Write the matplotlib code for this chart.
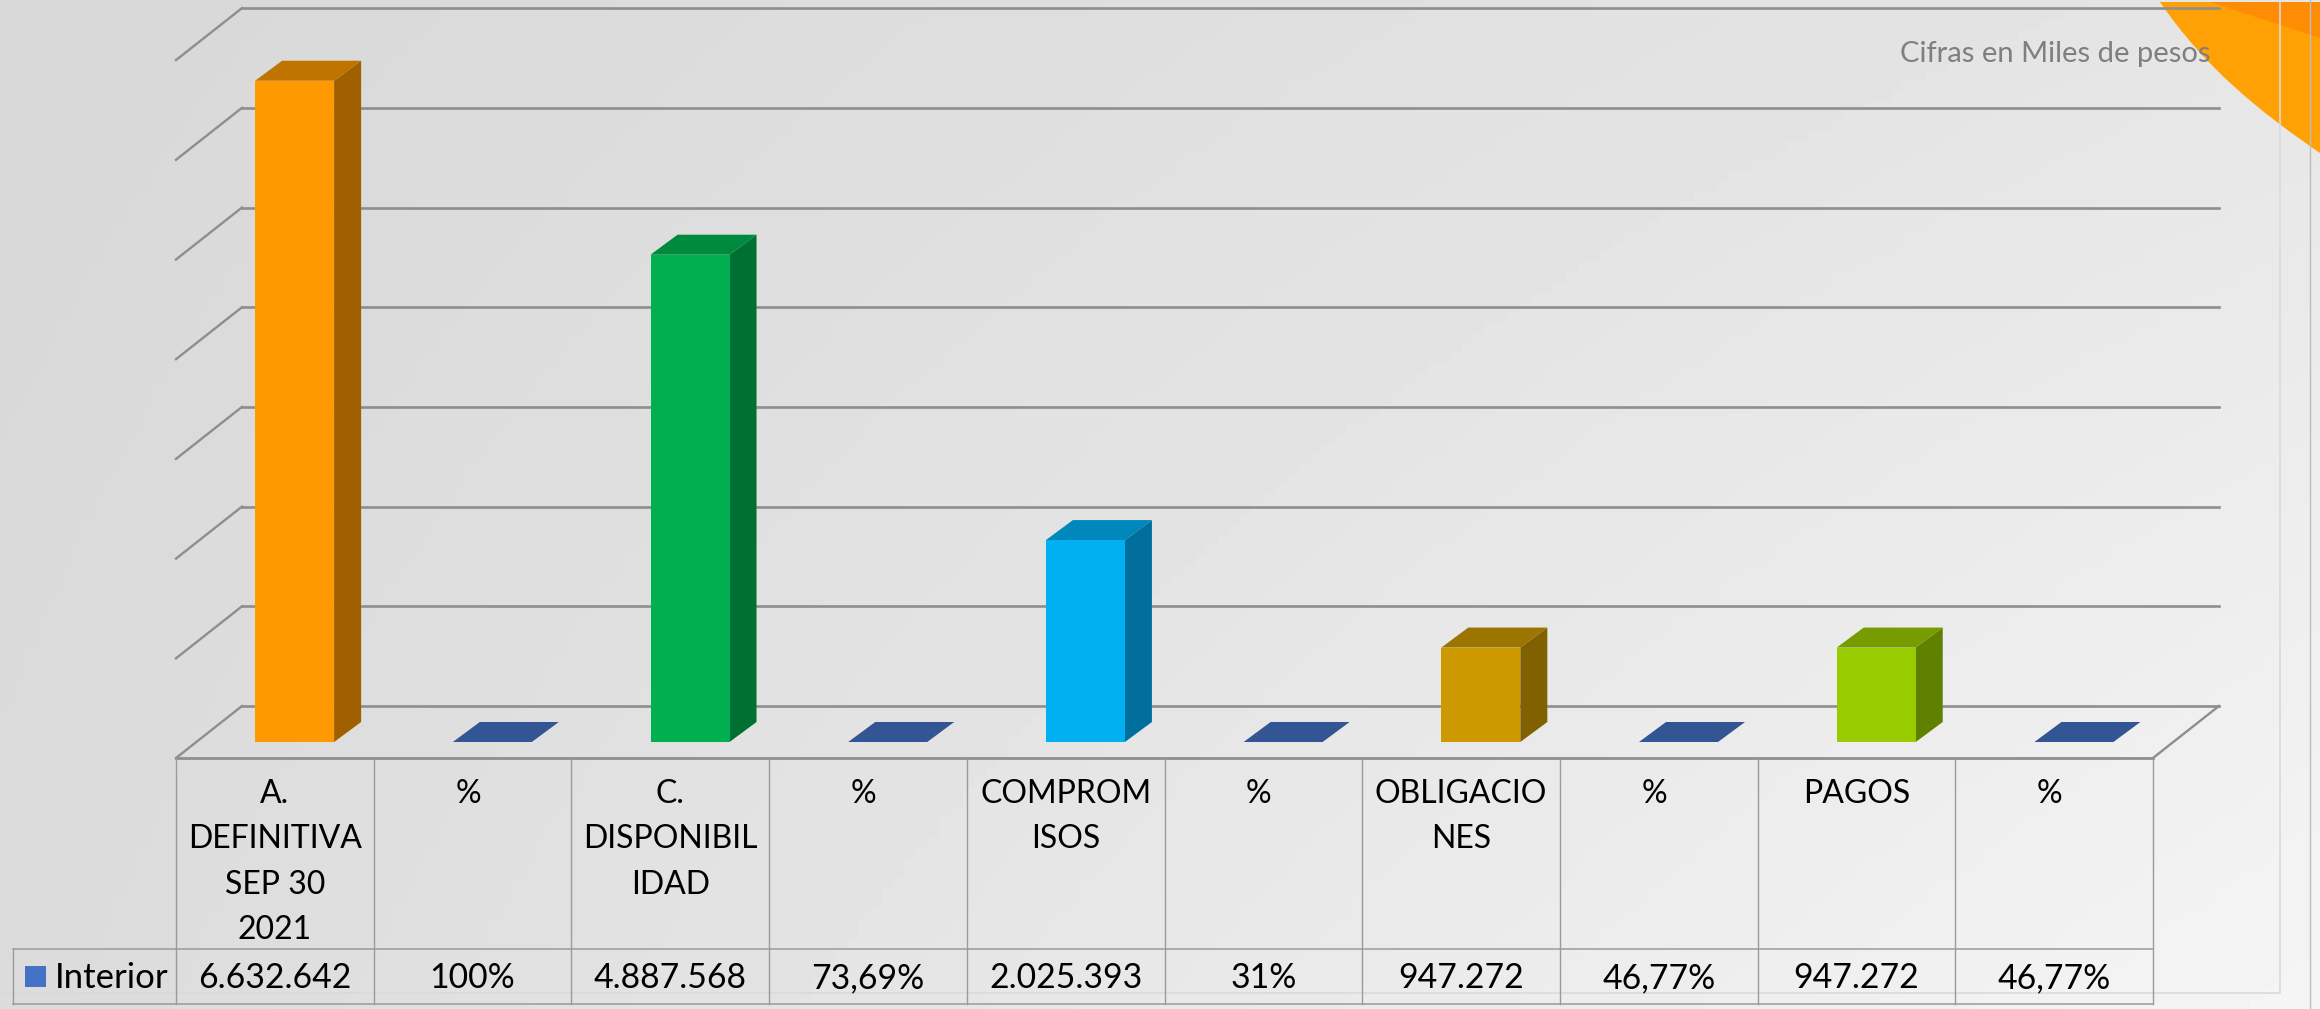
import numpy as np
import matplotlib
matplotlib.use('Agg')
import matplotlib.pyplot as plt
from matplotlib.patches import Polygon, PathPatch
from matplotlib.path import Path

plt.rcParams['font.family'] = ['Lato', 'DejaVu Sans']

categories = ['A.\nDEFINITIVA\nSEP 30\n2021', '% ', 'C.\nDISPONIBIL\nIDAD', '% ', 'COMPROM\nISOS', '% ',
              'OBLIGACIO\nNES', '% ', 'PAGOS', '% ']
values = [6632642, 1.0, 4887568, 0.7369, 2025393, 0.31, 947272, 0.4677, 947272, 0.4677]
value_labels = ['6.632.642', '100%', '4.887.568', '73,69%', '2.025.393', '31%', '947.272', '46,77%', '947.272', '46,77%']
series_name = 'Interior'
grid_ticks = [0, 1000000, 2000000, 3000000, 4000000, 5000000, 6000000, 7000000]

front_colors = ['#FF9900', '#335593', '#00B050', '#335593', '#00B0F0', '#335593', '#CC9900', '#335593', '#99CC00', '#335593']
side_colors = ['#A06000', '#335593', '#006F32', '#335593', '#006F9E', '#335593', '#806000', '#335593', '#608000', '#335593']
top_colors = ['#C07400', '#335593', '#008A3E', '#335593', '#0088BC', '#335593', '#9C7500', '#335593', '#769C00', '#335593']

W, H = 2320, 1009
cat_px = 197.7      # width of a category
val_px = 99.7e-6    # pixels per peso
left_px = 176
zero_px = 742

fig = plt.figure(figsize=(W / 100, H / 100), dpi=100)

# background and slide decoration, in pixels
bg = fig.add_axes([0, 0, 1, 1], zorder=0)
bg.set_xlim(0, W)
bg.set_ylim(H, 0)
bg.axis('off')
xx, yy = np.meshgrid(np.linspace(0, 1, 200), np.linspace(0, 1, 100))
grad = 0.845 + 0.055 * xx + 0.015 * yy + 0.045 * xx * yy
bg.imshow(grad, cmap='gray', vmin=0, vmax=1, extent=[0, W, H, 0], aspect='auto', zorder=0)

orange = Path([(2160, 2), (2205, 68), (2260, 112), (2320, 153), (2320, 2), (2160, 2)],
              [Path.MOVETO, Path.CURVE4, Path.CURVE4, Path.CURVE4, Path.LINETO, Path.CLOSEPOLY])
bg.add_patch(PathPatch(orange, fc='#FFA005', ec='none', zorder=1))
bg.add_patch(Polygon([(2210, 2), (2320, 2), (2320, 38)], fc='#FF8C05', ec='none', zorder=2))
bg.plot([2280, 2280, 0], [2, 993, 993], color='#DADADA', lw=1.2, zorder=3)
bg.plot([2310, 2310], [0, H], color='#BDBDBD', lw=1.0, zorder=3)

# chart axes: x in categories, y in pesos
ax = fig.add_axes([0, 0, 1, 1], zorder=1)
ax.patch.set_alpha(0)
ax.axis('off')
ax.set_xlim(-left_px / cat_px, (W - left_px) / cat_px)
ax.set_ylim((zero_px - H) / val_px, zero_px / val_px)

n = len(categories)
wall_dx = 66 / cat_px
wall_dy = 36 / val_px
floor_dy = -16 / val_px
grid_col = '#8E8E8E'

for t in grid_ticks:
    y = t + wall_dy
    ax.plot([wall_dx, n + wall_dx - 0.0], [y, y], color=grid_col, lw=1.9, zorder=2)
    ax.plot([0, wall_dx], [t + floor_dy, y], color=grid_col, lw=1.7, zorder=2)

# floor
ax.plot([0, n], [floor_dy, floor_dy], color=grid_col, lw=2.0, zorder=2)
ax.plot([n, n + wall_dx], [floor_dy, wall_dy], color=grid_col, lw=1.7, zorder=2)

# bars with fake depth
bar_w = 79 / cat_px
dx = 27 / cat_px
dy = 20 / val_px
for i, v in enumerate(values):
    x0 = i + 0.6 - bar_w / 2
    x1 = x0 + bar_w
    ax.bar(x0, v, width=bar_w, bottom=0, align='edge', color=front_colors[i], zorder=5)
    ax.add_patch(Polygon([(x1, 0), (x1 + dx, dy), (x1 + dx, v + dy), (x1, v)], fc=side_colors[i], ec='none', zorder=4))
    ax.add_patch(Polygon([(x0, v), (x0 + dx, v + dy), (x1 + dx, v + dy), (x1, v)], fc=top_colors[i], ec='none', zorder=4))

# data table
tab_col = '#9A9A9A'
row_top = (zero_px - 949) / val_px
row_bot = (zero_px - 1004) / val_px
legend_x = (13 - left_px) / cat_px
for i in range(n + 1):
    ax.plot([i, i], [floor_dy, row_bot], color=tab_col, lw=1.0, zorder=3)
ax.plot([legend_x, n], [row_top, row_top], color=tab_col, lw=1.1, zorder=3)
ax.plot([legend_x, n], [row_bot, row_bot], color=tab_col, lw=1.1, zorder=3)
ax.plot([legend_x, legend_x], [row_top, row_bot], color=tab_col, lw=1.0, zorder=3)

for i in range(n):
    ax.text(i + 0.5, (zero_px - 779) / val_px, categories[i], ha='center', va='top', fontsize=23,
            color='black', linespacing=1.64, zorder=6)
    ax.text(i + 0.5, (zero_px - 978) / val_px, value_labels[i], ha='center', va='center', fontsize=24.3,
            color='black', zorder=6)

ax.text((55 - left_px) / cat_px, (zero_px - 978) / val_px, series_name, ha='left', va='center', fontsize=25,
        color='black', zorder=6)
bg.add_patch(plt.Rectangle((25, 966), 21, 21, fc='#4472C4', ec='none', zorder=4))

ax.text((2211 - left_px) / cat_px, (zero_px - 54) / val_px, 'Cifras en Miles de pesos', ha='right', va='center',
        fontsize=21, color='#7F7F7F', zorder=6)

fig.savefig('out.png', dpi=100)
